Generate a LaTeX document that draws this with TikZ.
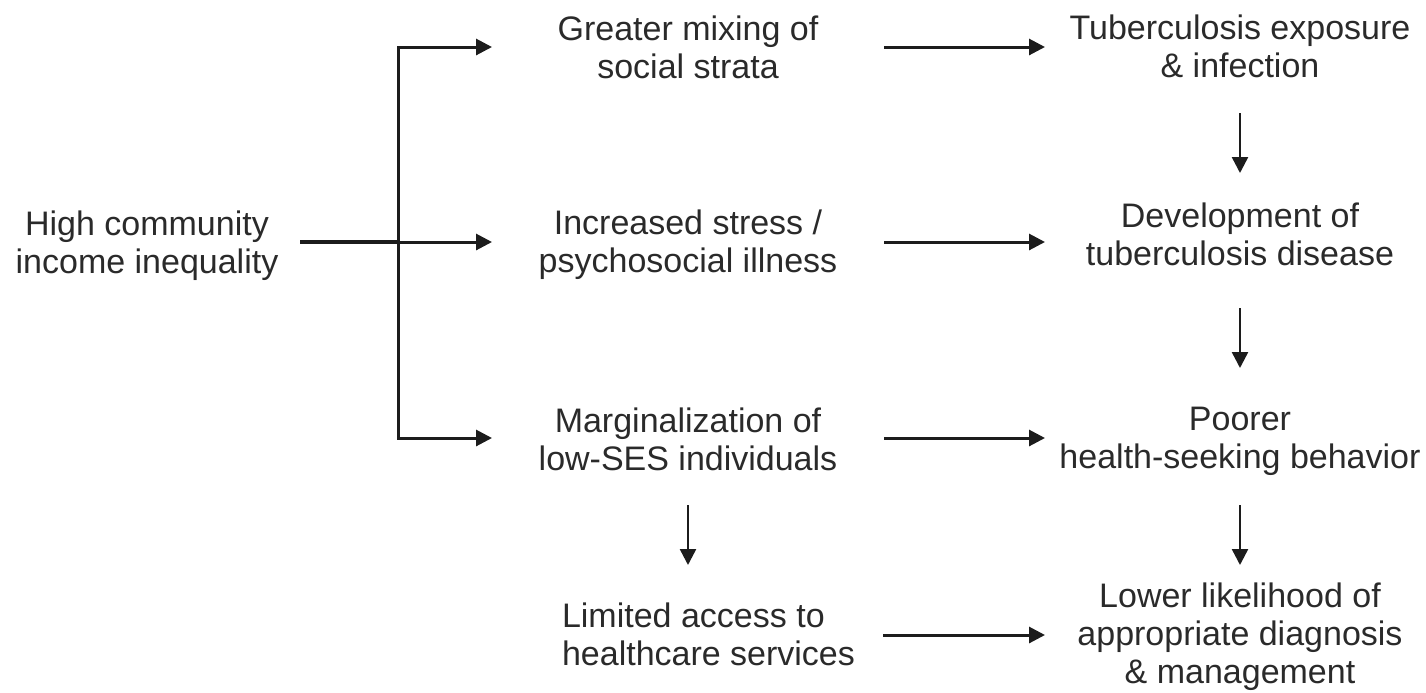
\documentclass[tikz,border=0pt]{standalone}
\usepackage{fontspec}
\setmainfont{Liberation Sans}
\usetikzlibrary{arrows.meta}
\definecolor{txt}{HTML}{2A2A2A}
\definecolor{ln}{HTML}{1C1C1C}
\begin{document}
\begin{tikzpicture}[x=0.5pt,y=-0.5pt,
  lbl/.style={inner sep=0pt,outer sep=0pt,align=center,text=txt,
    font=\fontsize{17}{19}\selectfont},
  midcol/.style={lbl,minimum width=196pt},
  rightcol/.style={lbl,minimum width=195pt},
  tip/.style={-{Triangle[length=8pt,width=8pt]}},
  arr/.style={draw=ln,line width=1.5pt,tip},
  varr/.style={draw=ln,line width=1.25pt,tip},
  mainline/.style={draw=ln,line width=2pt},
]
\useasboundingbox (0,0) rectangle (1426,692);

% row and junction coordinates
\coordinate (r1) at (0,47);
\coordinate (r2) at (0,242);
\coordinate (r3) at (0,438);
\coordinate (r4) at (0,635);
\coordinate (jn) at (398,242);

% nodes
\node[lbl,minimum width=153pt] (hci) at (147,246.4) {\strut High community\\\strut income inequality};

\node[midcol] (gm) at (688,51.4) {\strut Greater mixing of\\\strut social strata};
\node[midcol] (is) at (688,245.4) {\strut Increased stress /\\\strut psychosocial illness};
\node[midcol] (mg) at (688,443.4) {\strut Marginalization of\\\strut low-SES individuals};
\node[lbl,align=left,minimum width=174.5pt] (la) at (708.5,638.4) {\strut Limited access to\\\strut healthcare services};

\node[rightcol] (te) at (1240,50.4) {\strut Tuberculosis exposure\\\strut \& infection};
\node[rightcol] (dt) at (1240,238.4) {\strut Development of\\\strut tuberculosis disease};
\node[rightcol] (ph) at (1240,441.4) {\strut Poorer\\\strut health-seeking behavior};
\node[rightcol] (ll) at (1240,637.4) {\strut Lower likelihood of\\\strut appropriate diagnosis\\\strut \& management};

% left bracket
\draw[mainline] (hci.east |- jn) -- (jn);
\draw[arr] (jn) -- (is.west |- jn);
\draw[arr] (jn) |- (gm.west |- r1);
\draw[arr] (jn) |- (mg.west |- r3);

% horizontal arrows
\draw[arr] (gm.east |- r1) -- (te.west |- r1);
\draw[arr] (is.east |- r2) -- (dt.west |- r2);
\draw[arr] (mg.east |- r3) -- (ph.west |- r3);
\draw[arr] (la.east |- r4) -- (ll.west |- r4);

% vertical arrows
\draw[varr,shorten <=12.3pt,shorten >=13.7pt] (te.south) -- (dt.north);
\draw[varr,shorten <=15.8pt,shorten >=17.7pt] (dt.south) -- (ph.north);
\draw[varr,shorten <=12.8pt,shorten >=7.7pt] (ph.south) -- (ll.north);
\draw[varr,shorten <=11.8pt,shorten >=17.7pt] (mg.south) -- (mg.south |- la.north);
\end{tikzpicture}
\end{document}
